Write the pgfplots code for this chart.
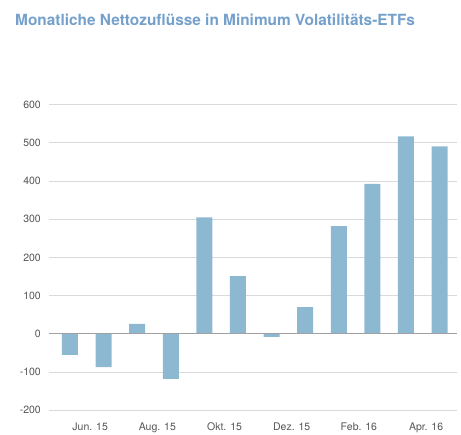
\documentclass[border=0pt]{standalone}
\usepackage{pgfplots}
\pgfplotsset{compat=1.18}
\usepackage{fontspec}
\setmainfont{TeX Gyre Heros}
\definecolor{barblue}{RGB}{141,184,210}
\definecolor{titleblue}{RGB}{116,160,203}
\definecolor{gridgray}{RGB}{218,218,218}
\definecolor{zerogray}{RGB}{160,160,160}
\definecolor{labelgray}{RGB}{85,85,85}
\begin{document}
\begin{tikzpicture}[x=1pt,y=1pt]
\path[use as bounding box] (0,0) rectangle (461,435);
\node[anchor=base west, inner sep=0pt, text=titleblue, font=\bfseries\fontsize{15.4}{18}\selectfont] at (15,409) {Monatliche Nettozuflüsse in Minimum Volatilitäts-ETFs};
\begin{axis}[
  at={(49pt,24.7pt)}, anchor=south west,
  scale only axis, width=408pt, height=305.6pt,
  xmin=-0.625, xmax=11.52, ymin=-200, ymax=600,
  enlargelimits=false,
  axis line style={draw=none},
  tick style={draw=none},
  ytick={-200,-100,0,100,200,300,400,500,600},
  yticklabels={-200,-100,0,100,200,300,400,500,600},
  ymajorgrids, major grid style={gridgray, line width=1pt},
  xtick={0.6,2.6,4.6,6.6,8.6,10.6},
  xticklabels={Jun. 15,Aug. 15,Okt. 15,Dez. 15,Feb. 16,Apr. 16},
  xticklabel style={anchor=base, yshift=-16.4pt, inner sep=0pt, text=labelgray, font=\fontsize{10.5}{12}\selectfont},
  yticklabel style={anchor=east, xshift=-8pt, inner sep=0pt, text=labelgray, font=\fontsize{10.5}{12}\selectfont},
  ybar, bar width=16pt,
]
\addplot[fill=barblue, draw=none, bar shift=0pt] coordinates {
 (0,-55) (1,-87) (2,26) (3,-118) (4,305) (5,151) (6,-8) (7,70) (8,282) (9,393) (10,517) (11,491)
};
\draw[zerogray, line width=1pt] (rel axis cs:0,0.25) -- (rel axis cs:1,0.25);
\end{axis}
\end{tikzpicture}
\end{document}
